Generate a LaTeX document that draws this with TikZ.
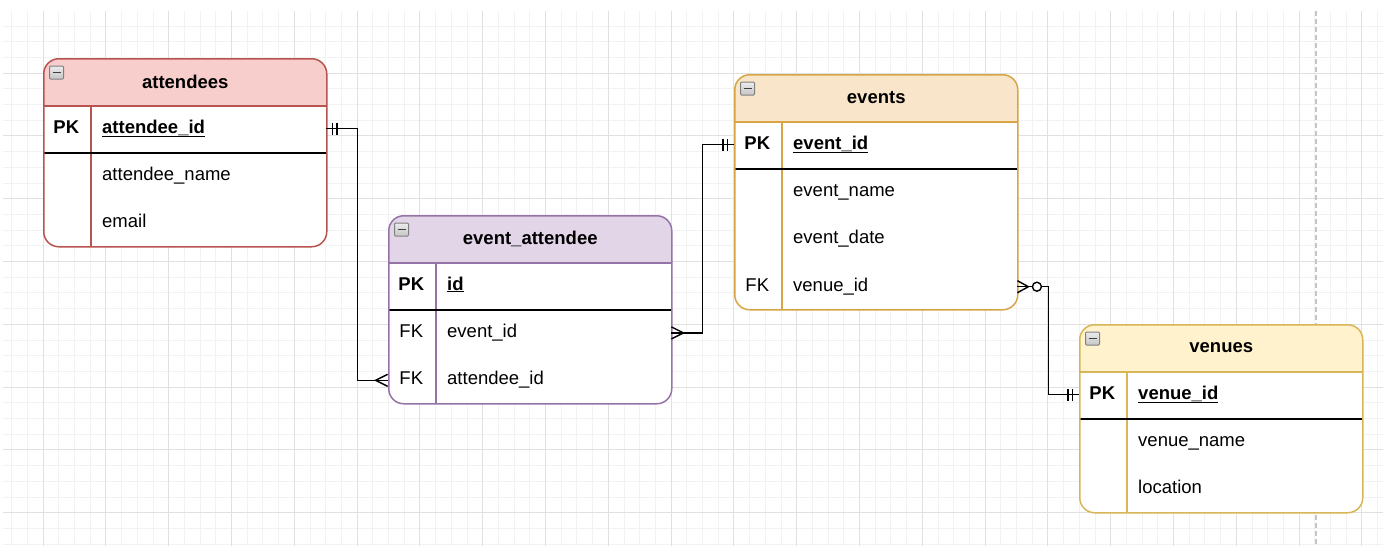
\documentclass[tikz,border=0pt]{standalone}
\usepackage{fontspec}
\setmainfont{Liberation Sans}
\usetikzlibrary{positioning}
\definecolor{attred}{HTML}{B85450}
\definecolor{attfill}{HTML}{F8CECC}
\definecolor{eapurple}{HTML}{9673A6}
\definecolor{eafill}{HTML}{E1D5E7}
\definecolor{evorange}{HTML}{D7A545}
\definecolor{evfill}{HTML}{F9E5CA}
\definecolor{venyellow}{HTML}{D6B656}
\definecolor{venfill}{HTML}{FFF2CC}
\definecolor{minorgray}{HTML}{F2F2F2}
\definecolor{majorgray}{HTML}{E0E0E0}
\begin{document}
\begin{tikzpicture}[x=1pt, y=-1pt,
  every node/.style={font=\fontsize{18.5}{22}\selectfont},
  table/.style 2 args={draw=#1, fill=white, rounded corners=15pt, line width=1.5pt,
    minimum width=283pt, inner sep=0pt, anchor=north west,
    path picture={
      \fill[#2, sharp corners] (path picture bounding box.north west) rectangle ([yshift=-47pt]path picture bounding box.north east);
      \draw[#1, sharp corners] ([yshift=-47pt]path picture bounding box.north west) -- ([yshift=-47pt]path picture bounding box.north east);
      \draw[#1, sharp corners] ([xshift=47pt,yshift=-47pt]path picture bounding box.north west) -- ([xshift=47pt]path picture bounding box.south west);
      \draw[black, sharp corners] ([yshift=-94pt]path picture bounding box.north west) -- ([yshift=-94pt]path picture bounding box.north east);}},
  title/.style={font=\fontsize{18.5}{22}\selectfont\bfseries},
  field/.style={anchor=west, text width=212pt, inner xsep=12pt, inner ysep=0pt, align=left,
    minimum height=47pt, text height=13pt, text depth=4pt},
  key/.style={minimum width=47pt, minimum height=47pt, inner sep=0pt, text height=13pt, text depth=4pt},
  minbox/.style={draw=gray, line width=1pt, top color=gray!15, bottom color=gray!45, rounded corners=1pt,
    minimum width=14pt, minimum height=13pt, inner sep=0pt,
    path picture={\draw[black!75, line width=1.5pt] ([xshift=3pt]path picture bounding box.west) -- ([xshift=-3pt]path picture bounding box.east);}},
  conn/.style={draw=black, line width=1.4pt},
  minorline/.style={draw=minorgray, line width=0.8pt},
  majorline/.style={draw=majorgray, line width=0.9pt},
  pagebreak/.style={draw=gray!45, line width=1.4pt, dash pattern=on 5pt off 3pt},
  pics/mandone/.style={code={\draw[conn] (6,-6) -- (6,6) (10.5,-6) -- (10.5,6);}},
  pics/many/.style={code={\draw[conn] (0,-6) -- (12,0) -- (0,6);}},
  pics/zeromany/.style={code={\draw[conn] (0,-6) -- (11,0) -- (0,6); \draw[conn, fill=white] (19.5,0) circle (4.5pt);}}]
\useasboundingbox[fill=white] (0,0) rectangle (1383,546);
% grid
\begin{scope}
\clip (3,11) rectangle (1383,546);
\foreach \k in {-2,...,85} \draw[minorline] ({43+15.7*\k},11) -- ++(0,535);
\foreach \k in {-4,...,30} \draw[minorline] (3,{73+15.7*\k}) -- ++(1380,0);
\foreach \k in {0,...,21} \draw[majorline] ({43+62.8*\k},11) -- ++(0,535);
\foreach \k in {-1,...,7} \draw[majorline] (3,{73+62.8*\k}) -- ++(1380,0);
\end{scope}
\draw[pagebreak] (1316,11) -- (1316,546);

% attendees
\node[table={attred}{attfill}, minimum height=188pt] (attendees) at (43,58) {};
\node[minbox] (att-min) at ([xshift=13.5pt,yshift=-14.5pt]attendees.north west) {};
\node[title] (att-title) at ([yshift=-23.5pt]attendees.north) {attendees};
\node[field] (att-id) at ([xshift=47pt,yshift=-70.5pt]attendees.north west) {\underline{\textbf{attendee\_id}}};
\node[field, below=0pt of att-id] (att-name) {attendee\_name};
\node[field, below=0pt of att-name] (att-email) {email};
\node[key, left=0pt of att-id] (att-id-k) {\textbf{PK}};

% event_attendee
\node[table={eapurple}{eafill}, minimum height=188pt] (eventattendee) at (388,215) {};
\node[minbox] (ea-min) at ([xshift=13.5pt,yshift=-14.5pt]eventattendee.north west) {};
\node[title] (ea-title) at ([yshift=-23.5pt]eventattendee.north) {event\_attendee};
\node[field] (ea-id) at ([xshift=47pt,yshift=-70.5pt]eventattendee.north west) {\underline{\textbf{id}}};
\node[field, below=0pt of ea-id] (ea-ev) {event\_id};
\node[field, below=0pt of ea-ev] (ea-att) {attendee\_id};
\node[key, left=0pt of ea-id] (ea-id-k) {\textbf{PK}};
\node[key, left=0pt of ea-ev] (ea-ev-k) {FK};
\node[key, left=0pt of ea-att] (ea-att-k) {FK};

% events
\node[table={evorange}{evfill}, minimum height=235pt] (events) at (734,74) {};
\node[minbox] (ev-min) at ([xshift=13.5pt,yshift=-14.5pt]events.north west) {};
\node[title] (ev-title) at ([yshift=-23.5pt]events.north) {events};
\node[field] (ev-id) at ([xshift=47pt,yshift=-70.5pt]events.north west) {\underline{\textbf{event\_id}}};
\node[field, below=0pt of ev-id] (ev-name) {event\_name};
\node[field, below=0pt of ev-name] (ev-date) {event\_date};
\node[field, below=0pt of ev-date] (ev-venue) {venue\_id};
\node[key, left=0pt of ev-id] (ev-id-k) {\textbf{PK}};
\node[key, left=0pt of ev-venue] (ev-venue-k) {FK};

% venues
\node[table={venyellow}{venfill}, minimum height=188pt] (venues) at (1079,324) {};
\node[minbox] (ven-min) at ([xshift=13.5pt,yshift=-14.5pt]venues.north west) {};
\node[title] (ven-title) at ([yshift=-23.5pt]venues.north) {venues};
\node[field] (ven-id) at ([xshift=47pt,yshift=-70.5pt]venues.north west) {\underline{\textbf{venue\_id}}};
\node[field, below=0pt of ven-id] (ven-name) {venue\_name};
\node[field, below=0pt of ven-name] (ven-loc) {location};
\node[key, left=0pt of ven-id] (ven-id-k) {\textbf{PK}};

% relations
\draw[conn] (att-id.east) -- ++(31,0) |- (ea-att-k.west);
\draw[conn] (ea-ev.east) -- ++(31,0) |- (ev-id-k.west);
\draw[conn] (ev-venue.east) -- ++(31,0) |- (ven-id-k.west);
\pic at (att-id.east) {mandone};
\pic[rotate=180] at (ea-att-k.west) {many};
\pic at (ea-ev.east) {many};
\pic[rotate=180] at (ev-id-k.west) {mandone};
\pic at (ev-venue.east) {zeromany};
\pic[rotate=180] at (ven-id-k.west) {mandone};
\end{tikzpicture}
\end{document}
